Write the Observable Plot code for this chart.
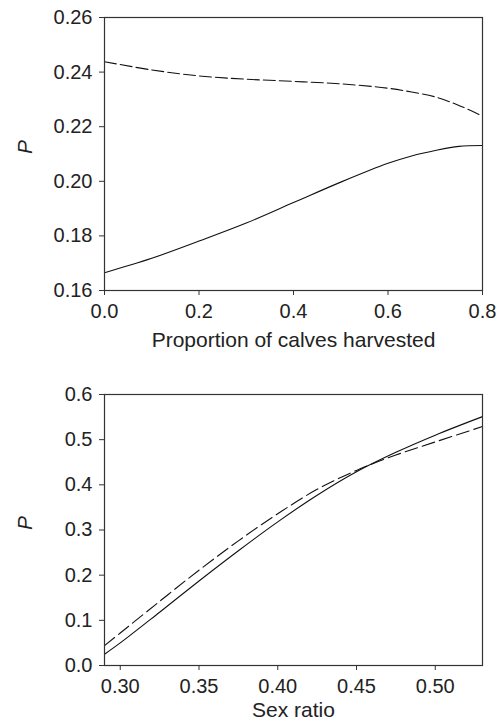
<!DOCTYPE html>
<html>
<head>
<meta charset="utf-8">
<script src="https://cdn.jsdelivr.net/npm/d3@7"></script>
<script src="https://cdn.jsdelivr.net/npm/@observablehq/plot@0.6"></script>
<style>
  html, body { margin: 0; padding: 0; background: #fff; }
  #chart svg { display: block; }
</style>
</head>
<body>
<div id="chart"></div>
<script>
// Top panel: proportion of calves harvested
const harvestX = [0, 0.1, 0.2, 0.3, 0.4, 0.5, 0.6, 0.65, 0.7, 0.75, 0.8];
const harvestDashed = [0.2438, 0.2408, 0.2386, 0.2374, 0.2366, 0.2357, 0.2341, 0.2327, 0.2309, 0.2278, 0.2239];
const harvestSolid = [0.1665, 0.1718, 0.1781, 0.1847, 0.1922, 0.1997, 0.2066, 0.2093, 0.2113, 0.2128, 0.2131];
const harvestXTicks = [0, 0.2, 0.4, 0.6, 0.8];
const harvestYTicks = [0.16, 0.18, 0.20, 0.22, 0.24, 0.26];

// Bottom panel: sex ratio
const sexX = [0.29, 0.30, 0.325, 0.35, 0.375, 0.40, 0.425, 0.45, 0.475, 0.50, 0.53];
const sexSolid = [0.025, 0.050, 0.118, 0.187, 0.254, 0.318, 0.377, 0.429, 0.472, 0.510, 0.551];
const sexDashed = [0.044, 0.072, 0.142, 0.211, 0.276, 0.336, 0.390, 0.432, 0.466, 0.495, 0.529];
const sexXTicks = [0.30, 0.35, 0.40, 0.45, 0.50];
const sexYTicks = [0, 0.1, 0.2, 0.3, 0.4, 0.5, 0.6];

const font = "'Liberation Sans', Arial, Helvetica, sans-serif";
const plotStyle = {fontFamily: font, fontSize: "20px", color: "#222", background: "#fff", overflow: "visible"};

function panel({xs, solid, dashed, xDomain, yDomain, xTicks, yTicks, xFmt, yFmt, xLabel, height, marginTop, marginBottom, labelDy, dash}) {
  const solidData = xs.map((x, i) => ({x, y: solid[i]}));
  const dashedData = xs.map((x, i) => ({x, y: dashed[i]}));
  return Plot.plot({
    width: 501,
    height,
    marginTop,
    marginBottom,
    marginLeft: 104,
    marginRight: 19,
    style: plotStyle,
    x: {domain: xDomain},
    y: {domain: yDomain},
    marks: [
      Plot.line(dashedData, {x: "x", y: "y", stroke: "#111", strokeWidth: 1.1, strokeDasharray: dash, curve: "catmull-rom"}),
      Plot.line(solidData, {x: "x", y: "y", stroke: "#111", strokeWidth: 1.1, curve: "catmull-rom"}),
      Plot.frame({stroke: "#333", strokeWidth: 1.2}),
      Plot.axisX({ticks: xTicks, tickFormat: d3.format(xFmt), tickSize: 5, tickPadding: 8, label: null, stroke: "#333", fill: "#222", fontSize: 20}),
      Plot.axisY({ticks: yTicks, tickFormat: d3.format(yFmt), tickSize: 5, tickPadding: 7, label: null, stroke: "#333", fill: "#222", fontSize: 20}),
      Plot.text([xLabel], {frameAnchor: "bottom", dy: labelDy, lineAnchor: "middle", fill: "#222", fontSize: 21}),
      Plot.text(["P"], {frameAnchor: "left", dx: -79, rotate: -90, lineAnchor: "middle", fill: "#222", fontSize: 21, fontStyle: "italic"})
    ]
  });
}

const topPanel = panel({
  xs: harvestX, solid: harvestSolid, dashed: harvestDashed,
  xDomain: [0, 0.8], yDomain: [0.16, 0.26],
  xTicks: harvestXTicks, yTicks: harvestYTicks, xFmt: ".1f", yFmt: ".2f",
  xLabel: "Proportion of calves harvested",
  height: 350, marginTop: 17, marginBottom: 60, labelDy: 50, dash: "12,4"
});

const bottomPanel = panel({
  xs: sexX, solid: sexSolid, dashed: sexDashed,
  xDomain: [0.29, 0.53], yDomain: [0, 0.6],
  xTicks: sexXTicks, yTicks: sexYTicks, xFmt: ".2f", yFmt: ".1f",
  xLabel: "Sex ratio",
  height: 374, marginTop: 44, marginBottom: 59, labelDy: 45, dash: "13,5"
});

const el = document.getElementById("chart");
el.appendChild(topPanel);
el.appendChild(bottomPanel);
</script>
</body>
</html>
